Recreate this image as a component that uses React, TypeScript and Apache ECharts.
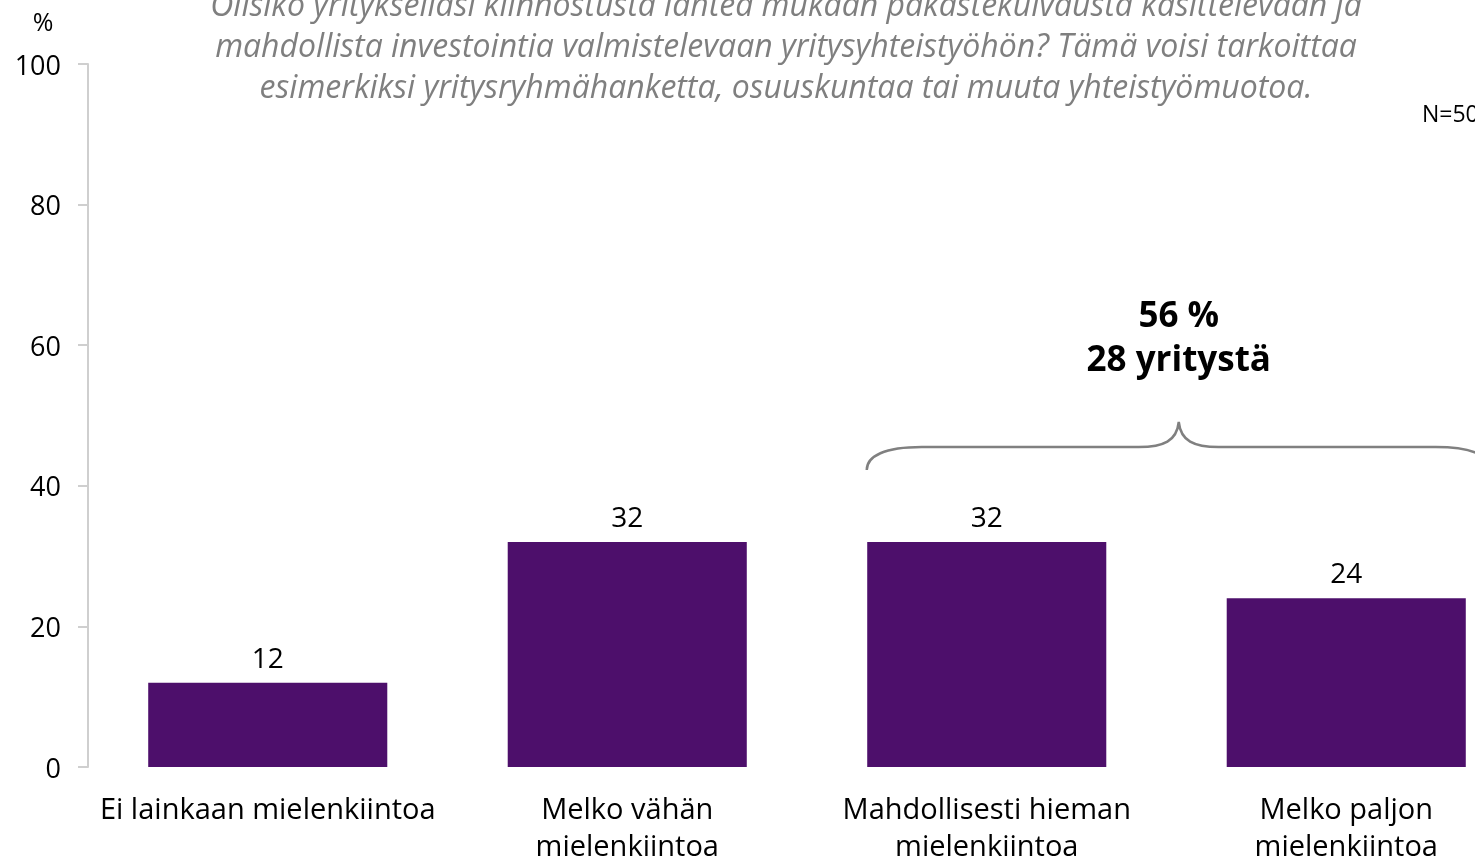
import React, { useEffect, useRef } from "react";
import * as echarts from "echarts";

const categories = [
  "Ei lainkaan mielenkiintoa",
  "Melko vähän\nmielenkiintoa",
  "Mahdollisesti hieman\nmielenkiintoa",
  "Melko paljon\nmielenkiintoa",
];
const values = [12, 32, 32, 24];
const titleLines = [
  "Olisiko yritykselläsi kiinnostusta lähteä mukaan pakastekuivausta käsittelevään ja",
  "mahdollista investointia valmistelevaan yritysyhteistyöhön? Tämä voisi tarkoittaa",
  "esimerkiksi yritysryhmähanketta, osuuskuntaa tai muuta yhteistyömuotoa.",
];
const sumLabel = ["56 %", "28 yritystä"];
const nLabel = "N=50";
const yTicks = [0, 20, 40, 60, 80, 100];

const FONT = "'Open Sans', Lato, sans-serif";
const CHART_W = 1540;

export default function App() {
  const ref = useRef<HTMLDivElement>(null);
  useEffect(() => {
    if (!ref.current) return;
    document.body.style.margin = "0";
    const chart = echarts.init(ref.current, null, { renderer: "svg" });
    const option: any = {
      animation: false,
      grid: { left: 88, right: CHART_W - 1526, top: 64, bottom: 90, containLabel: false },
      xAxis: {
        type: "category",
        data: categories,
        axisLine: { show: false },
        axisTick: { show: false },
        axisLabel: {
          interval: 0,
          color: "#000",
          fontSize: 29,
          lineHeight: 37,
          margin: 22,
          fontFamily: FONT,
        },
      },
      yAxis: {
        type: "value",
        min: yTicks[0],
        max: yTicks[yTicks.length - 1],
        interval: 20,
        splitLine: { show: false },
        axisLine: { show: true, lineStyle: { color: "#cfcfcf", width: 2 } },
        axisTick: { show: true, inside: false, length: 10, lineStyle: { color: "#cfcfcf", width: 2 } },
        axisLabel: { color: "#000", fontSize: 27, margin: 27, fontFamily: FONT },
      },
      series: [
        {
          type: "bar",
          data: values,
          barCategoryGap: "33.5%",
          itemStyle: { color: "#4D0F6B" },
          label: {
            show: true,
            position: "top",
            distance: 12,
            color: "#000",
            fontSize: 28,
            fontFamily: FONT,
          },
        },
      ],
    };
    chart.setOption(option);

    const p3 = chart.convertToPixel({ xAxisIndex: 0, yAxisIndex: 0 }, [2, 0]) as number[];
    const c3 = p3[0];
    const L = c3 - 120;
    const tip = L + 312;
    const R = L + 624;
    const yb = 470, yh = 447, yt = 422;
    const d = `M ${L} ${yb} C ${L} ${yb - 14} ${L + 18} ${yh} ${L + 55} ${yh} L ${tip - 40} ${yh} C ${tip - 15} ${yh} ${tip - 2} ${yh - 6} ${tip} ${yt} C ${tip + 2} ${yh - 6} ${tip + 15} ${yh} ${tip + 40} ${yh} L ${R - 55} ${yh} C ${R - 18} ${yh} ${R} ${yb - 14} ${R} ${yb}`;
    echarts.graphic.registerShape("brace", echarts.graphic.extendPath(d, {}) as any);

    chart.setOption({
      graphic: [
        ...titleLines.map((t, i) => ({
          type: "text",
          x: 786,
          y: 3 + i * 41,
          style: {
            text: t,
            fill: "#7f7f7f",
            fontSize: 32,
            fontStyle: "italic",
            fontFamily: FONT,
            align: "center",
            verticalAlign: "middle",
          },
        })),
        {
          type: "text",
          x: 1422,
          y: 113,
          style: { text: nLabel, fill: "#000", fontSize: 23, fontFamily: FONT, align: "left", verticalAlign: "middle" },
        },
        {
          type: "text",
          x: 43,
          y: 21,
          style: { text: "%", fill: "#000", fontSize: 25, fontFamily: FONT, align: "center", verticalAlign: "middle" },
        },
        {
          type: "text",
          x: tip,
          y: 313,
          style: { text: sumLabel[0], fill: "#000", fontSize: 35, fontWeight: "bold", fontFamily: FONT, align: "center", verticalAlign: "middle" },
        },
        {
          type: "text",
          x: tip,
          y: 357,
          style: { text: sumLabel[1], fill: "#000", fontSize: 35, fontWeight: "bold", fontFamily: FONT, align: "center", verticalAlign: "middle" },
        },
        {
          type: "brace",
          shape: {},
          style: { fill: "none", stroke: "#808080", lineWidth: 2.5 },
        },
      ],
    });
    return () => chart.dispose();
  }, []);
  return (
    <div style={{ position: "fixed", left: 0, top: 0, width: 1475, height: 863, overflow: "hidden" }}>
      <div ref={ref} style={{ width: CHART_W, height: 863 }} />
    </div>
  );
}
